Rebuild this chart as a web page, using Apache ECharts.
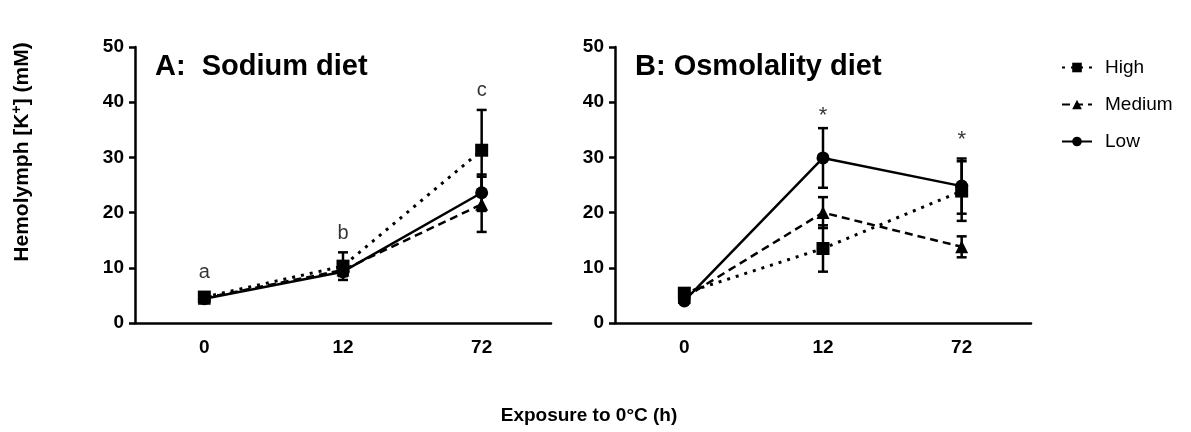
<!DOCTYPE html>
<html>
<head>
<meta charset="utf-8">
<script src="https://cdn.jsdelivr.net/npm/echarts@6/dist/echarts.min.js"></script>
<style>
  html, body { margin: 0; padding: 0; background: #fff; }
  #chart { width: 1191px; height: 432px; }
</style>
</head>
<body>
<div id="chart"></div>
<script>
// exposure times (h)
const categories = ['0', '12', '72'];
const yTicks = [0, 10, 20, 30, 40, 50];

// A: sodium diet, mean and error
const sodiumHigh = [4.7, 10.3, 31.3];
const sodiumHighErr = [0.6, 2.5, 7.3];
const sodiumMedium = [4.5, 9.6, 21.5];
const sodiumMediumErr = [0.5, 1.0, 5.0];
const sodiumLow = [4.4, 9.3, 23.6];
const sodiumLowErr = [0.5, 0.8, 3.3];

// B: osmolality diet
const osmoHigh = [5.4, 13.5, 23.9];
const osmoHighErr = [0.7, 4.2, 5.4];
const osmoMedium = [4.6, 20.0, 13.8];
const osmoMediumErr = [0.6, 2.8, 1.9];
const osmoLow = [4.0, 29.9, 24.8];
const osmoLowErr = [0.5, 5.4, 5.0];

// significance marks
const sodiumLetters = ['a', 'b', 'c'];
const sodiumLetterY = [9.1, 16.3, 42.2];
const osmoStars = ['', '*', '*'];
const osmoStarY = [null, 37.6, 33.2];

const FONT = 'Liberation Sans, Arial, sans-serif';
const chart = echarts.init(document.getElementById('chart'));

const groups = [
    {name: 'High', style: [3, 6], width: 3, symbol: 'rect', size: 13},
    {name: 'Medium', style: [8, 5], width: 2.5, symbol: 'triangle', size: 13},
    {name: 'Low', style: 'solid', width: 2.5, symbol: 'circle', size: 13}
];

function lineSeries(idx, g, values) {
    return {
        name: g.name,
        type: 'line',
        xAxisIndex: idx,
        yAxisIndex: idx,
        data: values,
        symbol: g.symbol,
        symbolSize: g.size,
        itemStyle: {color: '#000'},
        lineStyle: {color: '#000', width: g.width, type: g.style},
        z: 3,
        animation: false
    };
}

function errorSeries(idx, values, errs) {
    return {
        type: 'custom',
        xAxisIndex: idx,
        yAxisIndex: idx,
        data: values.map((v, i) => [i, v, errs[i]]),
        renderItem: function (params, api) {
            const x = api.value(0);
            const top = api.coord([x, api.value(1) + api.value(2)]);
            const bot = api.coord([x, api.value(1) - api.value(2)]);
            const w = 5;
            const st = {stroke: '#000', lineWidth: 2.5};
            return {
                type: 'group',
                children: [
                    {type: 'line', shape: {x1: top[0], y1: top[1], x2: bot[0], y2: bot[1]}, style: st},
                    {type: 'line', shape: {x1: top[0] - w, y1: top[1], x2: top[0] + w, y2: top[1]}, style: st},
                    {type: 'line', shape: {x1: bot[0] - w, y1: bot[1], x2: bot[0] + w, y2: bot[1]}, style: st}
                ]
            };
        },
        z: 2,
        silent: true,
        animation: false
    };
}

function markSeries(idx, texts, ys, fontSize) {
    return {
        type: 'scatter',
        xAxisIndex: idx,
        yAxisIndex: idx,
        symbolSize: 0,
        data: texts.map((t, i) => ys[i] == null ? null : {value: [i, ys[i]], text: t}).filter(d => d),
        label: {
            show: true,
            position: 'inside',
            formatter: p => p.data.text,
            color: '#000',
            fontFamily: FONT,
            fontSize: fontSize
        },
        silent: true,
        animation: false
    };
}

function xAxis(idx) {
    return {
        type: 'category',
        gridIndex: idx,
        data: categories,
        boundaryGap: true,
        axisLine: {lineStyle: {color: '#000', width: 2.5}},
        axisTick: {alignWithLabel: true, length: 6, lineStyle: {color: '#000', width: 2.5}},
        axisLabel: {color: '#000', fontFamily: FONT, fontWeight: 'bold', fontSize: 19, margin: 15}
    };
}

function yAxis(idx) {
    return {
        type: 'value',
        gridIndex: idx,
        min: yTicks[0],
        max: yTicks[yTicks.length - 1],
        interval: yTicks[1] - yTicks[0],
        axisLine: {show: true, lineStyle: {color: '#000', width: 2.5}},
        axisTick: {show: true, length: 6, lineStyle: {color: '#000', width: 2.5}},
        splitLine: {show: false},
        axisLabel: {color: '#000', fontFamily: FONT, fontWeight: 'bold', fontSize: 19, margin: 11}
    };
}

const series = [];
const sodium = [[sodiumHigh, sodiumHighErr], [sodiumMedium, sodiumMediumErr], [sodiumLow, sodiumLowErr]];
const osmo = [[osmoHigh, osmoHighErr], [osmoMedium, osmoMediumErr], [osmoLow, osmoLowErr]];
sodium.forEach(d => series.push(errorSeries(0, d[0], d[1])));
osmo.forEach(d => series.push(errorSeries(1, d[0], d[1])));
sodium.forEach((d, i) => series.push(lineSeries(0, groups[i], d[0])));
osmo.forEach((d, i) => series.push(lineSeries(1, groups[i], d[0])));
series.push(markSeries(0, sodiumLetters, sodiumLetterY, 20));
series.push(markSeries(1, osmoStars, osmoStarY, 22));

const option = {
    backgroundColor: '#fff',
    animation: false,
    title: [
        {text: 'A:  Sodium diet', left: 150, top: 47,
         textStyle: {fontFamily: FONT, fontWeight: 'bold', fontSize: 29, color: '#000'}},
        {text: 'B: Osmolality diet', left: 630, top: 47,
         textStyle: {fontFamily: FONT, fontWeight: 'bold', fontSize: 29, color: '#000'}}
    ],
    legend: {
        data: groups.map(g => g.name),
        orient: 'vertical',
        left: 1056,
        top: 53,
        itemWidth: 30,
        itemHeight: 12,
        itemGap: 18,
        textStyle: {fontFamily: FONT, fontSize: 19, color: '#000', padding: [0, 0, 0, 8]}
    },
    grid: [
        {left: 135, top: 47, width: 416, height: 276},
        {left: 615, top: 47, width: 416, height: 276}
    ],
    xAxis: [xAxis(0), xAxis(1)],
    yAxis: [yAxis(0), yAxis(1)],
    graphic: [
        {
            type: 'text',
            x: 22, y: 152,
            rotation: Math.PI / 2,
            style: {
                text: '{n|Hemolymph [K}{s|+}{n|] (mM)}',
                align: 'center',
                verticalAlign: 'middle',
                rich: {
                    n: {fontFamily: FONT, fontWeight: 'bold', fontSize: 21, fill: '#000'},
                    s: {fontFamily: FONT, fontWeight: 'bold', fontSize: 14, fill: '#000', verticalAlign: 'top', padding: [0, 0, 9, 0]}
                }
            }
        },
        {
            type: 'text',
            x: 589, y: 416,
            style: {
                text: 'Exposure to 0\u00B0C (h)',
                align: 'center',
                verticalAlign: 'middle',
                fontFamily: FONT, fontWeight: 'bold', fontSize: 19, fill: '#000'
            }
        }
    ],
    series: series
};

chart.setOption(option);
</script>
</body>
</html>
